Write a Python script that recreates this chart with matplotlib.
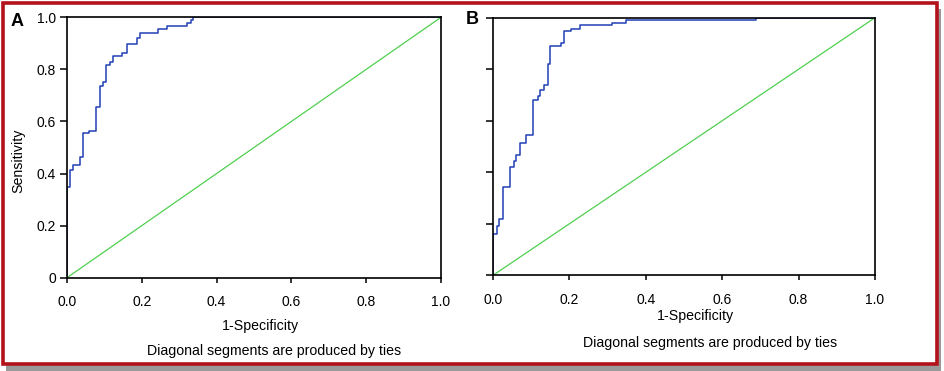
import matplotlib
matplotlib.use('Agg')
import matplotlib.pyplot as plt
from matplotlib.patches import Rectangle

plt.rcParams['font.family'] = ['Liberation Sans', 'DejaVu Sans']

# ROC curve A (step corners: x where curve rises, y reached)
fpr_a = [0, 0, 0.009, 0.016, 0.036, 0.043, 0.060, 0.078, 0.087, 0.096, 0.105, 0.114,
         0.124, 0.147, 0.160, 0.188, 0.196, 0.242, 0.267, 0.320, 0.331, 0.338, 1.0]
tpr_a = [0, 0.349, 0.415, 0.431, 0.464, 0.554, 0.564, 0.656, 0.736, 0.751, 0.817, 0.829,
         0.851, 0.864, 0.897, 0.919, 0.941, 0.954, 0.967, 0.979, 0.990, 1.0, 1.0]

# ROC curve B
fpr_b = [0, 0, 0.010, 0.017, 0.026, 0.045, 0.054, 0.061, 0.071, 0.087, 0.106, 0.117,
         0.123, 0.134, 0.143, 0.150, 0.177, 0.186, 0.203, 0.227, 0.311, 0.349, 0.688, 1.0]
tpr_b = [0, 0.159, 0.191, 0.217, 0.342, 0.422, 0.442, 0.468, 0.513, 0.545, 0.682, 0.695,
         0.718, 0.740, 0.822, 0.890, 0.903, 0.947, 0.957, 0.970, 0.980, 0.990, 1.0, 1.0]

ref_line = [0, 1]
xticks = [0, 0.2, 0.4, 0.6, 0.8, 1.0]
xtick_labels = ['0.0', '0.2', '0.4', '0.6', '0.8', '1.0']
yticks = [0, 0.2, 0.4, 0.6, 0.8, 1.0]
ytick_labels = ['0', '0.2', '0.4', '0.6', '0.8', '1.0']
note = 'Diagonal segments are produced by ties'

W, H = 944, 371
fig = plt.figure(figsize=(W / 100, H / 100), dpi=100)

def px_axes(x0, y_top, x1, y_bot):
    return fig.add_axes([x0 / W, 1 - y_bot / H, (x1 - x0) / W, (y_bot - y_top) / H])

# frame with drop shadow (behind the axes)
fig.patches.append(Rectangle((6 / W, 0 / H), 935 / W, 362 / H, transform=fig.transFigure,
                             facecolor='#9a9a9a', edgecolor='none', zorder=-2))
fig.patches.append(Rectangle((2.5 / W, 1 - 363.5 / H), 934 / W, 360.5 / H, transform=fig.transFigure,
                             facecolor='white', edgecolor='#b3121b', linewidth=2.6, zorder=-1))

def style_ax(ax, show_ylabels):
    ax.set_xlim(0, 1)
    ax.set_ylim(0, 1)
    ax.set_xticks(xticks)
    ax.set_xticklabels(xtick_labels, fontsize=10)
    ax.set_yticks(yticks)
    if show_ylabels:
        ax.set_yticklabels(ytick_labels, fontsize=10)
    else:
        ax.set_yticklabels([])
    ax.tick_params(axis='x', direction='out', length=3.5, width=1.1, pad=9)
    ax.tick_params(axis='y', direction='out', length=5, width=1.1, pad=3)
    for s in ax.spines.values():
        s.set_linewidth(1.2)
        s.set_color('black')
    ax.patch.set_alpha(0)

axA = px_axes(67, 17.3, 441, 277.7)
axA.plot(fpr_a, tpr_a, drawstyle='steps-post', color='#2240b5', linewidth=1.1)
axA.plot(ref_line, ref_line, color='#4fd04f', linewidth=0.9)
style_ax(axA, True)
axA.set_xlabel('1-Specificity', fontsize=10.2)
axA.xaxis.set_label_coords(0.517, -0.16)
axA.set_ylabel('Sensitivity', fontsize=10.2)
axA.yaxis.set_label_coords(-0.112, 0.45)

axB = px_axes(493, 17.7, 875, 275.3)
axB.plot(fpr_b, tpr_b, drawstyle='steps-post', color='#2240b5', linewidth=1.1)
axB.plot(ref_line, ref_line, color='#4fd04f', linewidth=0.9)
style_ax(axB, False)
axB.set_xlabel('1-Specificity', fontsize=10.2)
axB.xaxis.set_label_coords(0.531, -0.13)

fig.text(274 / W, 1 - 351 / H, note, fontsize=10.2, ha='center', va='center')
fig.text(710 / W, 1 - 343 / H, note, fontsize=10.2, ha='center', va='center')
fig.text(11 / W, 1 - 21 / H, 'A', fontsize=13, fontweight='bold', ha='left', va='center')
fig.text(466 / W, 1 - 20 / H, 'B', fontsize=13, fontweight='bold', ha='left', va='center')

fig.savefig('out.png', dpi=100)
